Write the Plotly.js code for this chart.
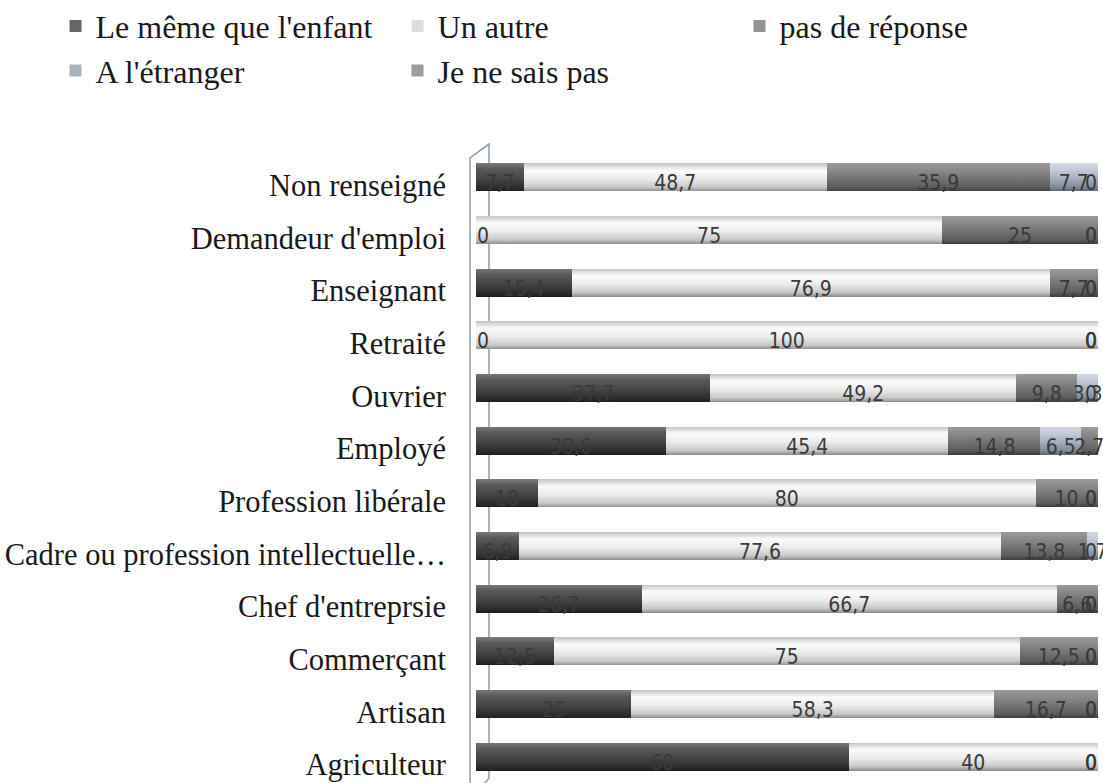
<!DOCTYPE html>
<html>
<head>
<meta charset="utf-8">
<script src="https://cdn.plot.ly/plotly-3.0.1.min.js"></script>
<style>html,body{margin:0;padding:0;background:#fff;}#chart{width:1103px;height:783px;}</style>
</head>
<body>
<div id="chart"></div>
<script>
// Categories (top to bottom as displayed)
const categories = ["Non renseigné","Demandeur d'emploi","Enseignant","Retraité","Ouvrier","Employé",
  "Profession libérale","Cadre ou profession intellectuelle…","Chef d'entreprsie","Commerçant","Artisan","Agriculteur"];

const seriesNames = ["Le même que l'enfant","Un autre","pas de réponse","A l'étranger","Je ne sais pas"];

const memeQueEnfant = [7.7, 0, 15.4, 0, 37.7, 30.6, 10, 6.9, 26.7, 12.5, 25, 60];
const unAutre       = [48.7, 75, 76.9, 100, 49.2, 45.4, 80, 77.6, 66.7, 75, 58.3, 40];
const pasDeReponse  = [35.9, 25, 7.7, 0, 9.8, 14.8, 10, 13.8, 6.6, 12.5, 16.7, 0];
const aLEtranger    = [7.7, 0, 0, 0, 3.3, 6.5, 0, 1.7, 0, 0, 0, 0];
const jeNeSaisPas   = [0, 0, 0, 0, 0, 2.7, 0, 0, 0, 0, 0, 0];

const seriesValues = [memeQueEnfant, unAutre, pasDeReponse, aLEtranger, jeNeSaisPas];
const baseColors = ["#666666", "#dcdcdc", "#939393", "#aab2c0", "#9c9c9c"];
const gradStops = [
  [["0","#7a7a7a"],["0.2","#5a5a5a"],["0.55","#454545"],["0.85","#2e2e2e"],["1","#1e1e1e"]],
  [["0","#c4c4c4"],["0.25","#fbfbfb"],["0.55","#ececec"],["0.85","#c8c8c8"],["1","#8e8e8e"]],
  [["0","#9a9a9a"],["0.25","#8a8a8a"],["0.55","#737373"],["0.85","#5c5c5c"],["1","#3e3e3e"]],
  [["0","#d4dae4"],["0.25","#c2cad6"],["0.55","#a4aebc"],["0.85","#808a98"],["1","#5e6670"]],
  [["0","#a0a0a0"],["0.25","#8a8a8a"],["0.55","#767676"],["0.85","#5e5e5e"],["1","#404040"]]
];

const labelFont = {family: "Liberation Sans Narrow, DejaVu Sans Condensed, Open Sans, sans-serif", size: 21, color: "#3a3a3a"};
const serif = "Liberation Serif, Times New Roman, serif";
const fmt = v => String(v).replace('.', ',');

const traces = seriesValues.map((vals, i) => ({
  type: 'bar',
  orientation: 'h',
  name: seriesNames[i],
  y: categories,
  x: vals,
  text: vals.map(v => v === 0 ? '' : fmt(v)),
  textposition: 'inside',
  insidetextanchor: 'middle',
  constraintext: 'none',
  textangle: 0,
  cliponaxis: false,
  insidetextfont: labelFont,
  marker: {color: baseColors[i], line: {width: 0}},
  hoverinfo: 'skip'
}));

// Zero-value labels, placed at the cumulative position of the segment
const annotations = [];
categories.forEach((cat, j) => {
  let cum = 0;
  seriesValues.forEach((vals) => {
    const v = vals[j];
    if (v === 0) {
      annotations.push({
        x: cum, y: cat, xref: 'x', yref: 'y', text: '0', showarrow: false, yshift: -6,
        xanchor: cum < 50 ? 'left' : 'right', font: labelFont, borderpad: 0
      });
    }
    cum = Math.round((cum + v) * 10) / 10;
  });
});

const layout = {
  width: 1103, height: 783,
  paper_bgcolor: '#ffffff', plot_bgcolor: 'rgba(0,0,0,0)',
  barmode: 'stack', bargap: 0.47,
  margin: {l: 476, r: 5, t: 151, b: 0, autoexpand: false},
  showlegend: true,
  legend: {
    orientation: 'h', xref: 'paper', yref: 'paper',
    x: -0.676, y: 1.241, xanchor: 'left', yanchor: 'top',
    entrywidth: 297, entrywidthmode: 'pixels', traceorder: 'normal',
    font: {family: serif, size: 32, color: '#1a1a1a'},
    itemclick: false, itemdoubleclick: false
  },
  xaxis: {range: [0, 100.05], visible: false, fixedrange: true},
  yaxis: {
    type: 'category', categoryorder: 'array', categoryarray: categories.slice().reverse(),
    range: [-0.5, 11.5], showgrid: false, zeroline: false, showline: false, ticks: '',
    ticklabelstandoff: 29, ticklabelshift: 8,
    tickfont: {family: serif, size: 30.5, color: '#1a1a1a'},
    fixedrange: true
  },
  annotations: annotations,
  shapes: [{
    type: 'path', xref: 'paper', yref: 'paper', layer: 'below',
    path: 'M -0.0096,-0.03 L -0.0096,0.989 L 0.0209,1.011 L 0.0209,0.008 L -0.0096,-0.03',
    line: {color: '#8d9ba8', width: 1.5}, fillcolor: 'rgba(0,0,0,0)'
  }]
};

Plotly.newPlot('chart', traces, layout, {displayModeBar: false, staticPlot: true}).then(gd => {
  const svg = gd.querySelector('svg.main-svg');
  const NS = 'http://www.w3.org/2000/svg';
  let defs = svg.querySelector('defs');
  if (!defs) { defs = document.createElementNS(NS, 'defs'); svg.insertBefore(defs, svg.firstChild); }
  gradStops.forEach((stops, i) => {
    const g = document.createElementNS(NS, 'linearGradient');
    g.setAttribute('id', 'cyl' + i);
    g.setAttribute('x1', '0'); g.setAttribute('y1', '0');
    g.setAttribute('x2', '0'); g.setAttribute('y2', '1');
    stops.forEach(([o, c]) => {
      const s = document.createElementNS(NS, 'stop');
      s.setAttribute('offset', o); s.setAttribute('stop-color', c);
      g.appendChild(s);
    });
    defs.appendChild(g);
  });
  const traceGroups = gd.querySelectorAll('.barlayer .trace');
  traceGroups.forEach((tg, i) => {
    tg.querySelectorAll('.point path').forEach(p => { p.style.fill = 'url(#cyl' + i + ')'; });
    tg.querySelectorAll('text.bartext').forEach(t => {
      const tr = t.getAttribute('transform') || '';
      t.setAttribute('transform', 'translate(0,6) ' + tr);
    });
  });
});
</script>
</body>
</html>
